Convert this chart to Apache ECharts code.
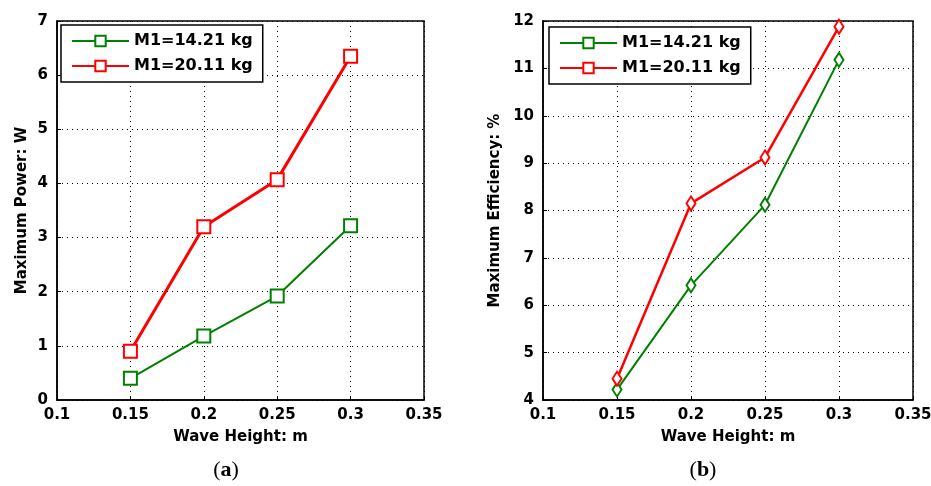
<!DOCTYPE html>
<html>
<head>
<meta charset="utf-8">
<script src="https://cdn.jsdelivr.net/npm/echarts@6/dist/echarts.min.js"></script>
<style>
  html, body { margin: 0; padding: 0; background: #fff; }
  #main { width: 931px; height: 486px; }
</style>
</head>
<body>
<div id="main"></div>
<script>
// wave height (m)
var waveHeight = [0.15, 0.2, 0.25, 0.3];
// (a) maximum power, W
var powerLight = [0.4, 1.18, 1.92, 3.22];
var powerHeavy = [0.9, 3.2, 4.07, 6.35];
// (b) maximum efficiency, %
var effLight = [4.22, 6.42, 8.12, 11.18];
var effHeavy = [4.45, 8.15, 9.12, 11.88];
var names = ['M1=14.21 kg', 'M1=20.11 kg'];

var green = '#008000', red = '#ff0000';
var font = 'DejaVu Sans, Verdana, sans-serif';

function pairs(ys) {
  return waveHeight.map(function (x, i) { return [x, ys[i]]; });
}

function xAxisCfg(idx) {
  return {
    type: 'value', gridIndex: idx, min: 0.1, max: 0.35, interval: 0.05,
    name: 'Wave Height: m', nameLocation: 'middle', nameGap: 30,
    nameTextStyle: { fontFamily: font, fontWeight: 'bold', fontSize: 15, color: '#000' },
    axisLine: { lineStyle: { color: '#000', width: 1.5 } },
    axisTick: { inside: true, length: 4, lineStyle: { color: '#000' } },
    axisLabel: { fontFamily: font, fontWeight: 'bold', fontSize: 15, color: '#000', margin: 8 },
    splitLine: { show: true, lineStyle: { color: '#000', type: [1, 4], width: 1 } }
  };
}

function yAxisCfg(idx, name, min, max, gap) {
  return {
    type: 'value', gridIndex: idx, min: min, max: max, interval: 1,
    name: name, nameLocation: 'middle', nameGap: gap, nameRotate: 90,
    nameTextStyle: { fontFamily: font, fontWeight: 'bold', fontSize: 15, color: '#000' },
    axisLine: { show: true, lineStyle: { color: '#000', width: 1.5 } },
    axisTick: { show: true, inside: true, length: 4, lineStyle: { color: '#000' } },
    axisLabel: { fontFamily: font, fontWeight: 'bold', fontSize: 15, color: '#000', margin: 9 },
    splitLine: { show: true, lineStyle: { color: '#000', type: [1, 4], width: 1 } }
  };
}

function lineSeries(name, idx, ys, color, symbol, size, width) {
  return {
    name: name, type: 'line', xAxisIndex: idx, yAxisIndex: idx,
    data: pairs(ys), symbol: symbol, symbolSize: size, showSymbol: true,
    lineStyle: { color: color, width: width },
    itemStyle: { color: '#fff', borderColor: color, borderWidth: 2 },
    color: color, animation: false
  };
}

function legendCfg(idx, left, top) {
  return {
    data: names.map(function (n) { return { name: n }; }),
    left: left, top: top, orient: 'vertical',
    seriesIndex: idx,
    backgroundColor: '#fff', borderColor: '#000', borderWidth: 1.5,
    padding: [8, 10, 8, 10], itemGap: 9, itemWidth: 57, itemHeight: 13,
    textStyle: { fontFamily: font, fontWeight: 'bold', fontSize: 16, color: '#000' }
  };
}

var myChart = echarts.init(document.getElementById('main'));

var serif = 'Liberation Serif, serif';
var titleStyle = {
  fontFamily: serif, fontSize: 22, fontWeight: 'normal', color: '#000',
  rich: {
    n: { fontFamily: serif, fontSize: 22, fontWeight: 'normal', color: '#000' },
    b: { fontFamily: serif, fontSize: 22, fontWeight: 'bold', color: '#000' }
  }
};

var option = {
  backgroundColor: '#fff',
  animation: false,
  title: [
    { text: '{n|(}{b|a}{n|)}', left: 226, top: 459, textAlign: 'center', padding: 0, textStyle: titleStyle },
    { text: '{n|(}{b|b}{n|)}', left: 703, top: 459, textAlign: 'center', padding: 0, textStyle: titleStyle }
  ],
  grid: [
    { left: 57, right: 507, top: 21, bottom: 86, outerBoundsMode: 'none', show: true, borderColor: '#000', borderWidth: 1.5, backgroundColor: '#fff' },
    { left: 543, right: 18, top: 21, bottom: 86, outerBoundsMode: 'none', show: true, borderColor: '#000', borderWidth: 1.5, backgroundColor: '#fff' }
  ],
  xAxis: [xAxisCfg(0), xAxisCfg(1)],
  yAxis: [
    yAxisCfg(0, 'Maximum Power: W', 0, 7, 27),
    yAxisCfg(1, 'Maximum Efficiency: %', 4, 12, 40)
  ],
  legend: [],
  series: [
    lineSeries(names[0], 0, powerLight, green, 'rect', 13, 2),
    lineSeries(names[1], 0, powerHeavy, red, 'rect', 13, 3),
    lineSeries(names[0], 1, effLight, green, 'diamond', [9, 14], 2),
    lineSeries(names[1], 1, effHeavy, red, 'diamond', [9, 14], 2.5)
  ]
};

// one legend per panel; both panels share the same series names
option.legend = [
  legendCfg(0, 61, 25),
  legendCfg(1, 549, 27)
];

myChart.setOption(option);
</script>
</body>
</html>
